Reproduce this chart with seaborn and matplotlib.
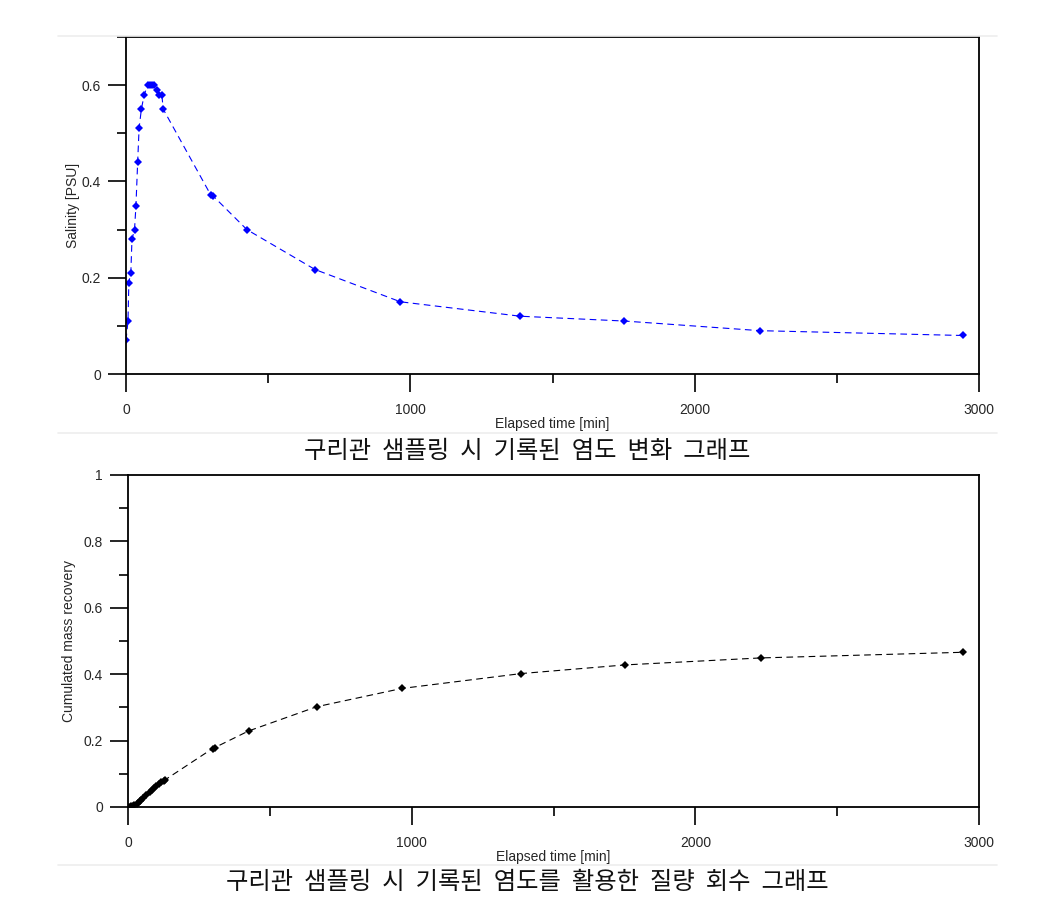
import matplotlib
matplotlib.use("Agg")
import matplotlib.pyplot as plt
import seaborn as sns
import pandas as pd
from matplotlib.ticker import MultipleLocator, FuncFormatter
from matplotlib.lines import Line2D

# ---- data ----
time_min = [0, 7, 10, 17, 21, 30, 35, 41, 46, 54, 64, 76, 84, 93, 98, 108, 117, 126, 131,
            298, 306, 425, 665, 965, 1387, 1753, 2230, 2942]
salinity_psu = [0.07, 0.11, 0.19, 0.21, 0.28, 0.30, 0.35, 0.44, 0.51, 0.55, 0.58, 0.60, 0.60,
                0.60, 0.60, 0.59, 0.58, 0.58, 0.55, 0.372, 0.37, 0.30, 0.217, 0.15, 0.12,
                0.11, 0.09, 0.08]
mass_recovery = [0.0, 0.001, 0.002, 0.004, 0.006, 0.010, 0.013, 0.017, 0.021, 0.027, 0.035,
                 0.045, 0.051, 0.058, 0.062, 0.068, 0.074, 0.079, 0.082, 0.176, 0.179, 0.229,
                 0.302, 0.357, 0.402, 0.428, 0.449, 0.466]

x_ticks = [0, 1000, 2000, 3000]
caption_top = "구리관  샘플링  시  기록된  염도  변화  그래프"
caption_bottom = "구리관  샘플링  시  기록된  염도를  활용한  질량  회수  그래프"

df = pd.DataFrame({"t": time_min, "s": salinity_psu, "m": mass_recovery})

sns.set_style("ticks")
plt.rcParams["font.family"] = ["Liberation Sans", "DejaVu Sans"]

fig = plt.figure(figsize=(10.51, 9.06), dpi=100)
ax1 = fig.add_axes([126/1051, 1-374/906, 853/1051, 337/906])
ax2 = fig.add_axes([128/1051, 1-807/906, 851/1051, 332/906])

sns.lineplot(data=df, x="t", y="s", ax=ax1, sort=False, estimator=None,
             color="#0000ff", linestyle=(0, (6, 4)), linewidth=0.8,
             marker="D", markersize=4.2, markeredgewidth=0)
sns.lineplot(data=df, x="t", y="m", ax=ax2, sort=False, estimator=None,
             color="black", linestyle=(0, (6, 4)), linewidth=0.8,
             marker="D", markersize=4, markeredgewidth=0)

def fmt(v, pos):
    return "%g" % round(v, 3)

for ax, ymax, ylabel, lx in [(ax1, 0.7, "Salinity [PSU]", (80-126)/853),
                             (ax2, 1.0, "Cumulated mass recovery", (76-128)/851)]:
    ax.set_xlim(0, 3000)
    ax.set_ylim(0, ymax)
    ax.set_xticks(x_ticks)
    ax.xaxis.set_minor_locator(MultipleLocator(500))
    ax.yaxis.set_major_locator(MultipleLocator(0.2))
    ax.yaxis.set_minor_locator(MultipleLocator(0.1))
    ax.yaxis.set_major_formatter(FuncFormatter(fmt))
    ax.xaxis.set_major_formatter(FuncFormatter(fmt))
    ax.tick_params(which="major", direction="out", length=13, width=1.2,
                   labelsize=10, pad=5, color="black")
    ax.tick_params(which="minor", direction="out", length=6.5, width=1.2, color="black")
    ax.tick_params(axis="x", which="major", pad=8)
    for sp in ax.spines.values():
        sp.set_visible(True)
        sp.set_linewidth(1.3)
        sp.set_color("black")
    ax.set_xlabel("Elapsed time [min]", fontsize=10, labelpad=0)
    ax.set_ylabel(ylabel, fontsize=10)
    ax.yaxis.set_label_coords(lx, 0.5)
    ax.grid(False)

# captions
fig.text(527/1051, 1-451/906, caption_top, ha="center", va="center", fontsize=17.5,
         family=["Noto Sans CJK KR", "DejaVu Sans"], color="#111111")
fig.text(527/1051, 1-882/906, caption_bottom, ha="center", va="center", fontsize=17.5,
         family=["Noto Sans CJK KR", "DejaVu Sans"], color="#111111")

# faint separator lines
for yy, x0, x1 in [(36, 58, 997), (433, 58, 997), (865, 58, 997)]:
    fig.add_artist(Line2D([x0/1051, x1/1051], [1-yy/906, 1-yy/906],
                          color="#eeeeee", linewidth=1.2))

fig.savefig("out.png", dpi=100)
